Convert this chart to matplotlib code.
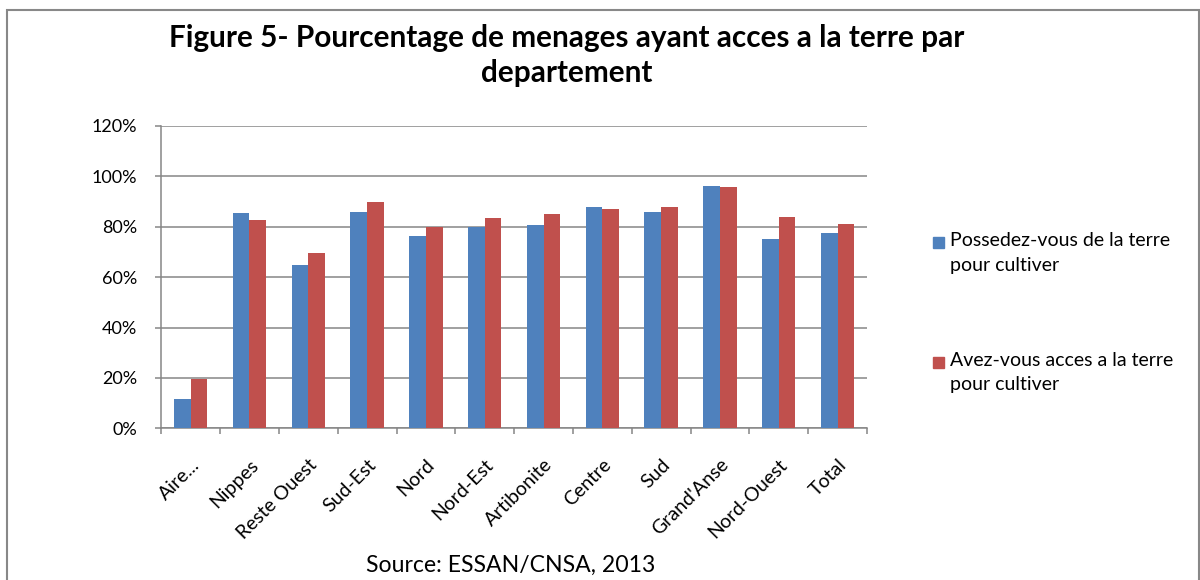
import numpy as np
import matplotlib
matplotlib.use("Agg")
import matplotlib.pyplot as plt
from matplotlib.patches import Rectangle
from matplotlib.ticker import PercentFormatter

# ==============================
# DATA
# ==============================
departements = ["Aire...", "Nippes", "Reste Ouest", "Sud-Est", "Nord", "Nord-Est",
                "Artibonite", "Centre", "Sud", "Grand'Anse", "Nord-Ouest", "Total"]
possedez = [0.115, 0.855, 0.647, 0.860, 0.763, 0.799, 0.808, 0.877, 0.860, 0.962, 0.753, 0.777]
avez_acces = [0.197, 0.828, 0.696, 0.897, 0.799, 0.835, 0.852, 0.869, 0.879, 0.958, 0.840, 0.811]

label_possedez = "Possedez-vous de la terre\npour cultiver"
label_acces = "Avez-vous acces a la terre\npour cultiver"

BLUE = "#4F81BD"
RED = "#C0504D"
GRID = "#868686"

plt.rcParams["font.family"] = ["Lato", "DejaVu Sans"]

# ==============================
# FIGURE
# ==============================
fig = plt.figure(figsize=(12, 5.8), dpi=100)
ax = fig.add_axes([0.1344, 0.2616, 0.7225 - 0.1344, 0.7828 - 0.2616])

x = np.arange(len(departements))
w = 0.284
ax.bar(x - w / 2, possedez, w, color=BLUE, zorder=3)
ax.bar(x + w / 2, avez_acces, w, color=RED, zorder=3)

ax.set_xlim(-0.5, len(departements) - 0.5)
ax.set_ylim(0, 1.2)
ax.set_yticks(np.arange(0, 1.21, 0.2))
ax.yaxis.set_major_formatter(PercentFormatter(1.0, decimals=0))
ax.grid(axis="y", color=GRID, lw=1.1, zorder=0)

for side in ["top", "right"]:
    ax.spines[side].set_visible(False)
for side in ["left", "bottom"]:
    ax.spines[side].set_color(GRID)
    ax.spines[side].set_linewidth(1.1)

ax.tick_params(axis="y", length=4.3, width=1.1, color=GRID, pad=13,
               labelsize=13, labelcolor="#000000")

# category labels at the centres, tick marks at the boundaries
ax.set_xticks(x)
ax.set_xticklabels(departements, rotation=45, ha="right", va="top",
                   rotation_mode="anchor", fontsize=14)
ax.set_xticks(np.arange(-0.5, len(departements), 1.0), minor=True)
ax.tick_params(axis="x", which="major", length=0, pad=20)
ax.tick_params(axis="x", which="minor", length=4.3, width=1.1, color=GRID)

# ==============================
# TITLE, SOURCE, LEGEND
# ==============================
fig.text(0.4725, 0.934, "Figure 5- Pourcentage de menages ayant acces a la terre par",
         ha="center", va="center", fontsize=21.4, fontweight="bold")
fig.text(0.4725, 0.874, "departement",
         ha="center", va="center", fontsize=21.4, fontweight="bold")
fig.text(0.4258, 0.026, "Source: ESSAN/CNSA, 2013", ha="center", va="center", fontsize=16.6)

for col, lab, ytop in [(BLUE, label_possedez, 1 - 242.5 / 580),
                       (RED, label_acces, 1 - 362 / 580)]:
    fig.patches.append(Rectangle((933 / 1200, ytop - 5.5 / 580), 11 / 1200, 11 / 580,
                                 transform=fig.transFigure, color=col))
    fig.text(950 / 1200, ytop + 10 / 580, lab, ha="left", va="top", fontsize=14,
             linespacing=1.5)

# outer frame of the chart area
fig.patches.append(Rectangle((7 / 1200, -0.05), 1192 / 1200, 1.05 - 10 / 580,
                             transform=fig.transFigure, fill=False,
                             edgecolor="#888888", lw=1.5))

fig.savefig("out.png", dpi=100)
plt.close(fig)
